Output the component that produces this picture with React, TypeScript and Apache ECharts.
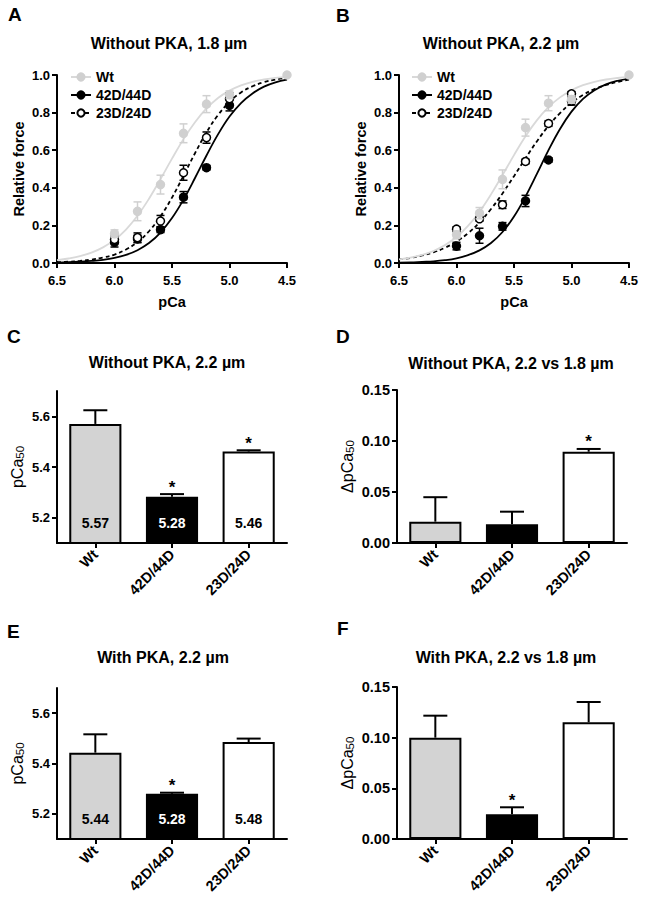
import React, { useEffect, useRef } from 'react';
import * as echarts from 'echarts';

const FONT = '"Liberation Sans", Arial, Helvetica, sans-serif';

// ---------- Panels A & B: force-pCa relations ----------
const pCaPoints = [6.0, 5.8, 5.6, 5.4, 5.2, 5.0, 4.5];

const aWt = [0.156, 0.275, 0.417, 0.69, 0.845, 0.895, 1.0];
const aWtErr = [0.02, 0.05, 0.05, 0.05, 0.045, 0.02, 0];
const a42 = [0.11, 0.128, 0.177, 0.35, 0.507, 0.839];
const a42Err = [0.025, 0.02, 0.015, 0.03, 0.012, 0.03];
const a23 = [0.125, 0.135, 0.223, 0.48, 0.667, 0.874];
const a23Err = [0.02, 0.025, 0.03, 0.04, 0.03, 0.03];

const bWt = [0.15, 0.265, 0.445, 0.72, 0.85, 0.87, 1.0];
const bWtErr = [0.02, 0.03, 0.05, 0.045, 0.04, 0.02, 0];
const b42 = [0.09, 0.145, 0.195, 0.33, 0.548, 0.86];
const b42Err = [0.02, 0.04, 0.02, 0.03, 0.012, 0.02];
const b23 = [0.18, 0.235, 0.31, 0.54, 0.742, 0.9];
const b23Err = [0.012, 0.012, 0.02, 0.012, 0.015, 0.012];

// fitted curves, read at pCa steps
const fitPCa = [6.5, 6.4, 6.3, 6.2, 6.1, 6.0, 5.9, 5.8, 5.7, 5.6, 5.5, 5.4, 5.3, 5.2, 5.1, 5.0, 4.9, 4.8, 4.7, 4.6, 4.5];
const aWtFit = [0.015, 0.024, 0.036, 0.055, 0.083, 0.123, 0.178, 0.251, 0.342, 0.446, 0.555, 0.659, 0.749, 0.822, 0.878, 0.917, 0.945, 0.964, 0.976, 0.985, 0.99];
const a42Fit = [0.002, 0.004, 0.007, 0.011, 0.017, 0.027, 0.043, 0.068, 0.106, 0.162, 0.239, 0.337, 0.452, 0.572, 0.684, 0.779, 0.851, 0.902, 0.938, 0.961, 0.975];
const a23Fit = [0.004, 0.007, 0.011, 0.018, 0.029, 0.045, 0.072, 0.111, 0.169, 0.248, 0.348, 0.464, 0.584, 0.695, 0.787, 0.857, 0.907, 0.94, 0.962, 0.976, 0.985];
const bWtFit = [0.019, 0.028, 0.043, 0.064, 0.095, 0.138, 0.197, 0.273, 0.365, 0.468, 0.574, 0.674, 0.76, 0.829, 0.881, 0.919, 0.946, 0.964, 0.976, 0.984, 0.99];
const b42Fit = [0.002, 0.003, 0.006, 0.009, 0.015, 0.025, 0.042, 0.067, 0.106, 0.165, 0.247, 0.353, 0.475, 0.6, 0.713, 0.805, 0.873, 0.919, 0.95, 0.969, 0.981];
const b23Fit = [0.019, 0.027, 0.04, 0.057, 0.081, 0.114, 0.158, 0.216, 0.287, 0.37, 0.462, 0.557, 0.648, 0.729, 0.797, 0.852, 0.894, 0.925, 0.947, 0.963, 0.975];

const seriesNames = ['Wt', '42D/44D', '23D/24D'];

// ---------- Panels C-F: bars ----------
const barCategories = ['Wt', '42D/44D', '23D/24D'];

const cValues = [5.57, 5.283, 5.461];
const cErr = [0.054, 0.01, 0.005];
const cSig = [false, true, true];
const cLabels = ['5.57', '5.28', '5.46'];

const dValues = [0.0209, 0.0183, 0.0895];
const dErr = [0.024, 0.0124, 0.0027];
const dSig = [false, false, true];

const eValues = [5.443, 5.28, 5.485];
const eErr = [0.073, 0.004, 0.014];
const eSig = [false, true, false];
const eLabels = ['5.44', '5.28', '5.48'];

const fValues = [0.1, 0.0244, 0.1152];
const fErr = [0.0217, 0.0069, 0.02];
const fSig = [false, true, false];

const pcaTicks = [5.2, 5.4, 5.6];

const panelTitles = [
  'Without PKA, 1.8 µm',
  'Without PKA, 2.2 µm',
  'Without PKA, 2.2 µm',
  'Without PKA, 2.2 vs 1.8 µm',
  'With PKA, 2.2 µm',
  'With PKA, 2.2 vs 1.8 µm',
];
const panelLetters = ['A', 'B', 'C', 'D', 'E', 'F'];

const GRAY = '#d0d0d0';
const barColors = ['#d3d3d3', '#000000', '#ffffff'];
const labelColors = ['#000000', '#ffffff', '#000000'];

function buildOption() {
  const grid: any[] = [
    { left: 57, top: 75, width: 230, height: 188 },
    { left: 399, top: 75, width: 230, height: 188 },
    { left: 57, top: 391, width: 230, height: 152 },
    { left: 397, top: 390, width: 230, height: 153 },
    { left: 57, top: 688, width: 230, height: 151 },
    { left: 397, top: 687, width: 230, height: 152 },
  ];

  const axisLine = { show: true, onZero: false, lineStyle: { color: '#000', width: 2 } };
  const axisTick = { show: true, length: 5, lineStyle: { color: '#000', width: 2 } };

  const xAxis: any[] = [];
  const yAxis: any[] = [];
  const series: any[] = [];

  // curve panels
  [0, 1].forEach((gi) => {
    xAxis.push({
      type: 'value', gridIndex: gi, min: 4.5, max: 6.5, interval: 0.5, inverse: true,
      name: 'pCa', nameLocation: 'middle', nameGap: 31,
      nameTextStyle: { fontFamily: FONT, fontWeight: 'bold', fontSize: 14.5, color: '#000' },
      axisLine, axisTick,
      axisLabel: { formatter: (v: number) => v.toFixed(1), fontFamily: FONT, fontWeight: 'bold', fontSize: 13, color: '#000', margin: 11 },
      splitLine: { show: false },
    });
    yAxis.push({
      type: 'value', gridIndex: gi, min: 0, max: 1, interval: 0.2,
      name: 'Relative force', nameLocation: 'middle', nameGap: 31, nameRotate: 90,
      nameTextStyle: { fontFamily: FONT, fontWeight: 'bold', fontSize: 14.5, color: '#000' },
      axisLine, axisTick,
      axisLabel: { formatter: (v: number) => v.toFixed(1), fontFamily: FONT, fontWeight: 'bold', fontSize: 13, color: '#000', margin: 7 },
      splitLine: { show: false },
    });
  });

  const errRender = (color: string, cap: number) => (params: any, api: any) => {
    const x = api.value(0);
    const y = api.value(1);
    const e = api.value(2);
    if (!e) return { type: 'group', children: [] };
    const top = api.coord([x, y + e]);
    const bot = api.coord([x, y - e]);
    const st = { stroke: color, lineWidth: 1.5 };
    return {
      type: 'group',
      children: [
        { type: 'line', shape: { x1: top[0], y1: top[1], x2: bot[0], y2: bot[1] }, style: st },
        { type: 'line', shape: { x1: top[0] - cap, y1: top[1], x2: top[0] + cap, y2: top[1] }, style: st },
        { type: 'line', shape: { x1: bot[0] - cap, y1: bot[1], x2: bot[0] + cap, y2: bot[1] }, style: st },
      ],
    };
  };

  const curveSets = [
    { gi: 0, pts: [a42, a23, aWt], errs: [a42Err, a23Err, aWtErr], fits: [a42Fit, a23Fit, aWtFit] },
    { gi: 1, pts: [b42, b23, bWt], errs: [b42Err, b23Err, bWtErr], fits: [b42Fit, b23Fit, bWtFit] },
  ];
  const styles = [
    { name: seriesNames[1], line: '#000', fill: '#000', border: '#000', dash: 'solid' as any },
    { name: seriesNames[2], line: '#000', fill: '#fff', border: '#000', dash: [4, 3] as any },
    { name: seriesNames[0], line: '#d9d9d9', fill: GRAY, border: GRAY, dash: 'solid' as any },
  ];

  curveSets.forEach((cs) => {
    // fit lines (used by legend)
    styles.forEach((s, k) => {
      series.push({
        type: 'line', name: s.name, xAxisIndex: cs.gi, yAxisIndex: cs.gi,
        data: fitPCa.map((x, i) => [x, cs.fits[k][i]]),
        smooth: 0.4, showSymbol: false, symbol: 'circle', symbolSize: 8,
        lineStyle: { color: s.line, width: 1.8, type: s.dash },
        itemStyle: { color: s.fill, borderColor: s.border, borderWidth: 1.5 },
        z: 2, silent: true,
      });
    });
    styles.forEach((s, k) => {
      const ys = cs.pts[k];
      const es = cs.errs[k];
      series.push({
        type: 'custom', name: s.name + ' err', xAxisIndex: cs.gi, yAxisIndex: cs.gi,
        data: ys.map((y, i) => [pCaPoints[i], y, es[i]]),
        encode: { x: 0, y: 1 },
        renderItem: errRender(k === 2 ? GRAY : '#000', 4),
        z: 3 + k * 2,
      });
      series.push({
        type: 'scatter', name: s.name + ' data', xAxisIndex: cs.gi, yAxisIndex: cs.gi,
        data: ys.map((y, i) => [pCaPoints[i], y]),
        symbol: 'circle', symbolSize: 8,
        itemStyle: { color: s.fill, borderColor: s.border, borderWidth: 1.5, opacity: 1 },
        z: 4 + k * 2,
      });
    });
  });

  // bar panels
  const barPanels = [
    { gi: 2, vals: cValues, errs: cErr, sig: cSig, labels: cLabels, pca: true, name: '{m|pCa}{s|50}', fs: 13 },
    { gi: 3, vals: dValues, errs: dErr, sig: dSig, labels: null, pca: false, name: '{m|ΔpCa}{s|50}', fs: 14.5 },
    { gi: 4, vals: eValues, errs: eErr, sig: eSig, labels: eLabels, pca: true, name: '{m|pCa}{s|50}', fs: 13 },
    { gi: 5, vals: fValues, errs: fErr, sig: fSig, labels: null, pca: false, name: '{m|ΔpCa}{s|50}', fs: 14.5 },
  ];

  barPanels.forEach((bp) => {
    xAxis.push({
      type: 'category', gridIndex: bp.gi, data: barCategories,
      axisLine, axisTick: { ...axisTick, alignWithLabel: true },
      axisLabel: { rotate: 45, interval: 0, fontFamily: FONT, fontWeight: 'bold', fontSize: 14.5, color: '#000', margin: 9 },
      splitLine: { show: false },
    });
    const yMin = bp.pca ? 5.1 : 0;
    const ya: any = {
      type: 'value', gridIndex: bp.gi, min: yMin, max: bp.pca ? 5.7 : 0.15,
      name: bp.name, nameLocation: 'middle', nameGap: bp.pca ? 31 : 41, nameRotate: 90,
      nameTextStyle: {
        rich: {
          m: { fontFamily: FONT, fontSize: 16, color: '#000' },
          s: { fontFamily: FONT, fontSize: 11.5, color: '#000', verticalAlign: 'bottom', padding: [5, 0, 0, 0] },
        },
      },
      axisLine,
      axisTick: bp.pca ? { ...axisTick, customValues: pcaTicks } : axisTick,
      axisLabel: bp.pca
        ? { customValues: pcaTicks, formatter: (v: number) => v.toFixed(1), fontFamily: FONT, fontWeight: 'bold', fontSize: bp.fs, color: '#000', margin: 7 }
        : { formatter: (v: number) => v.toFixed(2), fontFamily: FONT, fontWeight: 'bold', fontSize: bp.fs, color: '#000', margin: 7 },
      splitLine: { show: false },
    };
    if (!bp.pca) ya.interval = 0.05;
    yAxis.push(ya);

    series.push({
      type: 'bar', xAxisIndex: bp.gi, yAxisIndex: bp.gi, clip: true,
      data: bp.vals.map((v, i) => ({ value: v, itemStyle: { color: barColors[i] } })),
      barWidth: '68%',
      itemStyle: { borderColor: '#000', borderWidth: 2 },
      z: 2, silent: true,
    });
    series.push({
      type: 'custom', xAxisIndex: bp.gi, yAxisIndex: bp.gi,
      data: bp.vals.map((v, i) => [i, v, bp.errs[i]]),
      encode: { x: 0, y: 1 },
      renderItem: (params: any, api: any) => {
        const i = api.value(0);
        const v = api.value(1);
        const e = api.value(2);
        const p0 = api.coord([i, v]);
        const p1 = api.coord([i, v + e]);
        const st = { stroke: '#000', lineWidth: 2 };
        const children: any[] = [
          { type: 'line', shape: { x1: p0[0], y1: p0[1], x2: p1[0], y2: p1[1] }, style: st },
          { type: 'line', shape: { x1: p1[0] - 12, y1: p1[1], x2: p1[0] + 12, y2: p1[1] }, style: st },
        ];
        if (bp.sig[params.dataIndex]) {
          children.push({
            type: 'text', x: p1[0], y: p1[1] - 7,
            style: { text: '*', textAlign: 'center', textVerticalAlign: 'middle', fill: '#000', font: `bold 17px ${FONT}` },
          });
        }
        if (bp.labels) {
          const base = api.coord([i, yMin]);
          children.push({
            type: 'text', x: base[0], y: base[1] - 20,
            style: { text: bp.labels[params.dataIndex], textAlign: 'center', textVerticalAlign: 'middle', fill: labelColors[params.dataIndex], font: `bold 14px ${FONT}` },
          });
        }
        return { type: 'group', children };
      },
      z: 5, silent: true,
    });
  });

  const titlePos = [
    [169, 43], [501, 43], [167, 362], [511, 363], [163, 657], [506, 657],
  ];
  const letterPos = [
    [8, 14], [336, 15], [7, 336], [336, 336], [7, 631], [337, 628],
  ];
  const graphic: any[] = [];
  panelTitles.forEach((t, i) => {
    graphic.push({
      type: 'text', x: titlePos[i][0], y: titlePos[i][1],
      style: { text: t, textAlign: 'center', textVerticalAlign: 'middle', fill: '#000', font: `bold 16px ${FONT}` },
    });
  });
  panelLetters.forEach((t, i) => {
    graphic.push({
      type: 'text', x: letterPos[i][0], y: letterPos[i][1],
      style: { text: t, textAlign: 'left', textVerticalAlign: 'middle', fill: '#000', font: `bold 19px ${FONT}` },
    });
  });

  const legendBase = {
    orient: 'vertical', data: seriesNames, itemWidth: 20, itemHeight: 9, itemGap: 4,
    selectedMode: false, padding: 0,
    textStyle: { fontFamily: FONT, fontWeight: 'bold', fontSize: 14, color: '#000' },
  };

  return {
    animation: false,
    backgroundColor: '#fff',
    grid,
    xAxis,
    yAxis,
    series,
    graphic,
    legend: [
      { ...legendBase, left: 70, top: 70 },
      { ...legendBase, left: 411, top: 70 },
    ],
  };
}

export default function App() {
  const ref = useRef<HTMLDivElement>(null);
  useEffect(() => {
    if (!ref.current) return;
    const chart = echarts.init(ref.current, undefined, { renderer: 'svg' });
    chart.setOption(buildOption() as any);
    return () => chart.dispose();
  }, []);
  return (
    <div
      ref={ref}
      style={{ position: 'absolute', left: 0, top: 0, width: 645, height: 906, background: '#fff' }}
    />
  );
}
